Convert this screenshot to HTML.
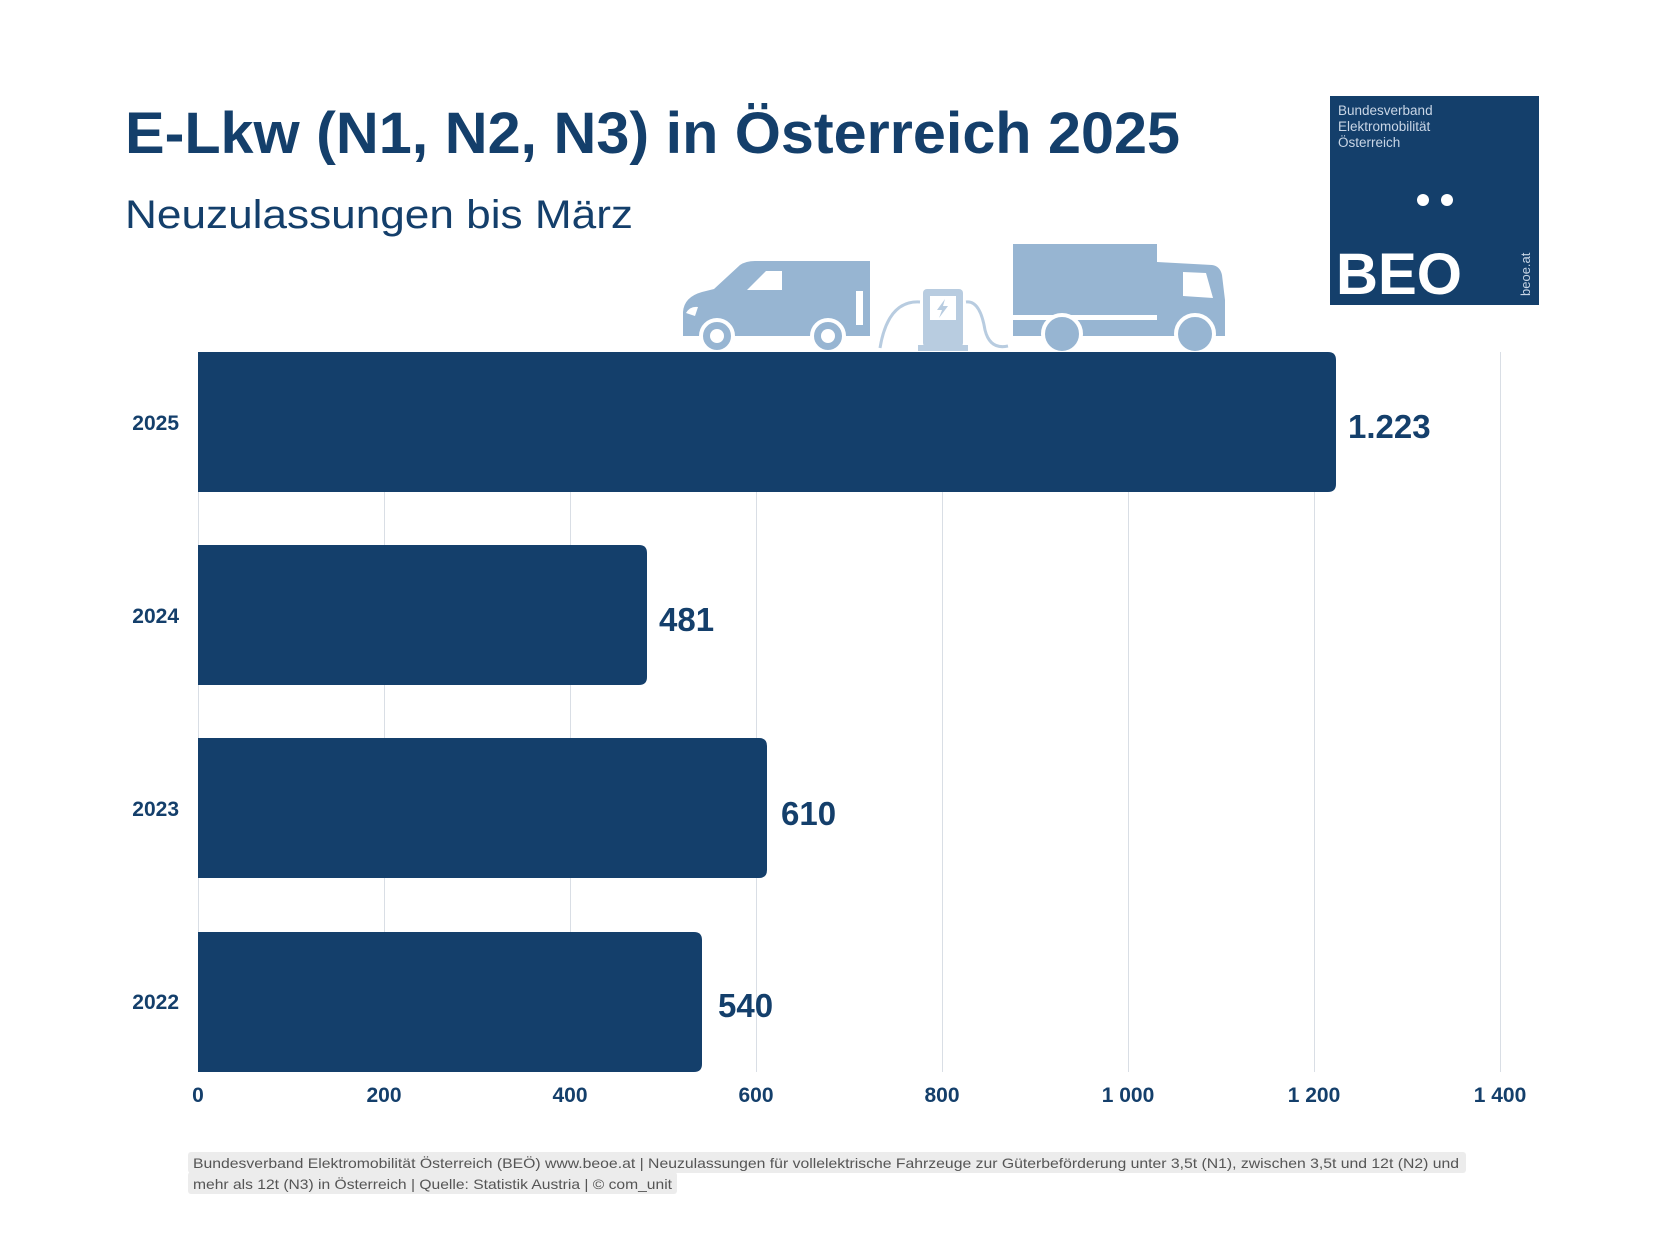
<!DOCTYPE html>
<html><head><meta charset="utf-8"><style>
html,body{margin:0;padding:0;background:#fff;}
svg{display:block;}
</style></head><body>
<svg width="1664" height="1248" viewBox="0 0 1664 1248" xmlns="http://www.w3.org/2000/svg" font-family="Liberation Sans, sans-serif">
<rect width="1664" height="1248" fill="#fff"/>
<text x="125" y="153" font-size="58" font-weight="bold" fill="#143f6b" textLength="1055" lengthAdjust="spacingAndGlyphs">E-Lkw (N1, N2, N3) in Österreich 2025</text>
<text x="125" y="228" font-size="40" fill="#143f6b" textLength="508" lengthAdjust="spacingAndGlyphs">Neuzulassungen bis März</text>
<!-- logo -->
<rect x="1330" y="96" width="209" height="209" fill="#143f6b"/>
<g fill="#c9d6e6" font-size="13.5">
<text x="1338" y="115">Bundesverband</text>
<text x="1338" y="131">Elektromobilität</text>
<text x="1338" y="147">Österreich</text>
</g>
<circle cx="1423" cy="200" r="6" fill="#fff"/>
<circle cx="1447" cy="200" r="6" fill="#fff"/>
<text x="1336" y="294" font-size="58" font-weight="bold" fill="#fff" textLength="126" lengthAdjust="spacingAndGlyphs">BEO</text>
<text transform="translate(1530,296) rotate(-90)" font-size="13" fill="#c9d6e6">beoe.at</text>
<!-- grid -->
<g stroke="#d9dee5" stroke-width="1">
<line x1="198.5" y1="352" x2="198.5" y2="1072"/>
<line x1="384.5" y1="352" x2="384.5" y2="1072"/>
<line x1="570.5" y1="352" x2="570.5" y2="1072"/>
<line x1="756.5" y1="352" x2="756.5" y2="1072"/>
<line x1="942.5" y1="352" x2="942.5" y2="1072"/>
<line x1="1128.5" y1="352" x2="1128.5" y2="1072"/>
<line x1="1314.5" y1="352" x2="1314.5" y2="1072"/>
<line x1="1500.5" y1="352" x2="1500.5" y2="1072"/>
</g>
<!-- icons -->
<g fill="#97b5d2">
<path d="M683 312 Q684 297 702 292 L714 289 L740 265 Q746 261 755 261 L870 261 L870 336 L683 336 Z"/>
<rect x="1013" y="244" width="144" height="71"/>
<path d="M1157 262 L1212 265 Q1220 266 1222 275 L1225 300 L1225 336 L1013 336 L1013 320 L1157 320 Z"/>
</g>
<path d="M747 290 L766 271 L782 271 L782 290 Z" fill="#fff"/>
<rect x="856" y="291" width="7" height="34" fill="#fff"/>
<path d="M1183 272 L1206 273 L1213 298 L1183 296 Z" fill="#fff"/>
<path d="M686 313 Q690 306 698 307 L695 316 Z" fill="#fff"/>
<g fill="#97b5d2" stroke="#fff" stroke-width="4">
<circle cx="717" cy="336" r="16"/><circle cx="828" cy="336" r="16"/>
<circle cx="1062" cy="334" r="19"/><circle cx="1195" cy="334" r="19"/>
</g>
<g fill="#fff"><circle cx="717" cy="336" r="7"/><circle cx="828" cy="336" r="7"/></g>
<path d="M880 348 Q888 300 920 302 M966 302 Q980 300 985 330 Q990 350 1008 346" fill="none" stroke="#b8cce0" stroke-width="3"/>
<rect x="923" y="289" width="40" height="58" rx="4" fill="#b8cce0"/>
<rect x="918" y="345" width="50" height="6" fill="#b8cce0"/>
<rect x="930" y="296" width="26" height="24" fill="#fff"/>
<path d="M945 299 L937 310 L942 310 L939 318 L948 306 L943 306 Z" fill="#b8cce0"/>
<!-- bars -->
<g fill="#143f6b">
<path d="M198 352 H1328 Q1336 352 1336 360 V484 Q1336 492 1328 492 H198 Z"/>
<path d="M198 545 H639 Q647 545 647 553 V677 Q647 685 639 685 H198 Z"/>
<path d="M198 738 H759 Q767 738 767 746 V870 Q767 878 759 878 H198 Z"/>
<path d="M198 932 H694 Q702 932 702 940 V1064 Q702 1072 694 1072 H198 Z"/>
</g>
<g fill="#143f6b" font-weight="bold" font-size="33">
<text x="1348" y="438">1.223</text>
<text x="659" y="631">481</text>
<text x="781" y="825">610</text>
<text x="718" y="1017">540</text>
</g>
<g fill="#143f6b" font-weight="bold" font-size="21" text-anchor="end">
<text x="179" y="430">2025</text>
<text x="179" y="623">2024</text>
<text x="179" y="816">2023</text>
<text x="179" y="1009">2022</text>
</g>
<g fill="#143f6b" font-weight="bold" font-size="21" text-anchor="middle">
<text x="198" y="1102">0</text>
<text x="384" y="1102">200</text>
<text x="570" y="1102">400</text>
<text x="756" y="1102">600</text>
<text x="942" y="1102">800</text>
<text x="1128" y="1102">1 000</text>
<text x="1314" y="1102">1 200</text>
<text x="1500" y="1102">1 400</text>
</g>
<!-- footer -->
<rect x="188" y="1152" width="1278" height="21" rx="3" fill="#ececec"/>
<rect x="188" y="1172" width="489" height="22" rx="3" fill="#ececec"/>
<g fill="#555" font-size="14">
<text x="193" y="1168" textLength="1266" lengthAdjust="spacingAndGlyphs">Bundesverband Elektromobilität Österreich (BEÖ) www.beoe.at | Neuzulassungen für vollelektrische Fahrzeuge zur Güterbeförderung unter 3,5t (N1), zwischen 3,5t und 12t (N2) und</text>
<text x="193" y="1189" textLength="479" lengthAdjust="spacingAndGlyphs">mehr als 12t (N3) in Österreich | Quelle: Statistik Austria | © com_unit</text>
</g>
</svg>
</body></html>
